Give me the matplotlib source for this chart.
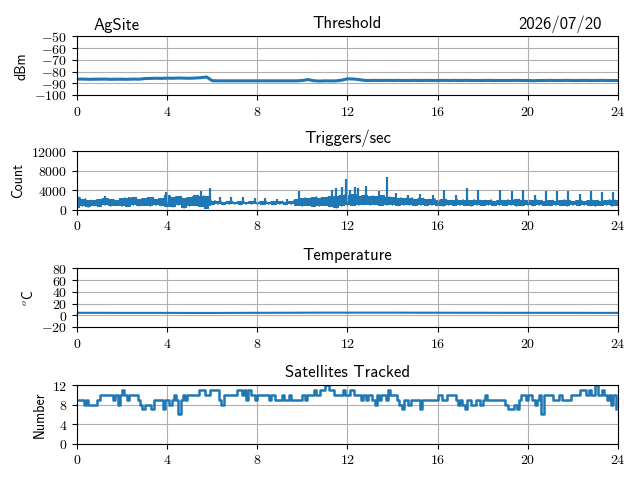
import matplotlib
matplotlib.use('Agg')
import matplotlib.pyplot as plt
from matplotlib.ticker import FuncFormatter
import numpy as np

plt.rcParams['font.family'] = ['cmss10', 'DejaVu Sans']
plt.rcParams['mathtext.fontset'] = 'cm'
plt.rcParams['axes.unicode_minus'] = True

# ----------------------------------------------------------------------
# Data (hours of the day)

site = 'AgSite'
date = '2026/07/20'

# threshold, every 0.25 h
thresh_dbm = [
    -86.5, -86.4, -86.6, -86.5,  -86.5, -86.4, -86.6, -86.5,
    -86.5, -86.6, -86.4, -86.5,  -86.0, -85.8, -85.7, -85.8,
    -85.6, -85.7, -85.5, -85.6,  -85.7, -85.5, -85.2, -84.6,
    -87.8, -87.9, -87.9, -87.9,  -87.9, -87.9, -87.9, -87.9,
    -87.9, -87.9, -87.9, -87.9,  -87.9, -87.9, -87.9, -87.9,
    -87.6, -86.8, -87.8, -88.1,  -87.9, -88.0, -87.9, -87.3,
    -86.2, -86.3, -86.8, -87.5,  -87.6, -87.5, -87.6, -87.5,
    -87.6, -87.5, -87.6, -87.6,  -87.5, -87.6, -87.5, -87.6,
    -87.6, -87.5, -87.6, -87.5,  -87.6, -87.5, -87.6, -87.6,
    -87.6, -87.5, -87.6, -87.6,  -87.6, -87.6, -87.5, -87.6,
    -87.6, -87.8, -87.6, -87.6,  -87.5, -87.6, -87.6, -87.5,
    -87.6, -87.6, -87.5, -87.6,  -87.6, -87.5, -87.6, -87.6,
    -87.6,
]

# trigger rate envelope, every 0.25 h
trig_lo = [
    300, 700, 500, 800,  600, 900, 700, 800,  700, 600, 900, 700,
    800, 700, 900, 800,  600, 500, 900, 300,  700, 800, 600, 200,
    1000, 1100, 1000, 1100,  1100, 1000, 1100, 1100,  1100, 1000, 1100, 1000,
    1100, 1000, 1100, 800,  700, 800, 600, 700,  800, 600, 300, 700,
    900, 800, 900, 1000,  900, 1000, 800, 900,  900, 800, 900, 900,
    800, 900, 800, 900,  800, 700, 900, 800,  900, 800, 700, 900,
    800, 900, 800, 900,  800, 900, 700, 800,  900, 800, 900, 800,
    800, 900, 800, 700,  900, 800, 900, 800,  700, 800, 900, 700,
    800,
]
trig_hi = [
    2500, 2200, 1900, 2000,  2200, 2300, 2100, 1900,  2400, 2300, 2500, 2200,
    2300, 2500, 2200, 2400,  2900, 2600, 2700, 2400,  2600, 2900, 2800, 2700,
    1800, 1700, 1600, 1700,  1600, 1700, 1600, 1800,  1600, 1700, 1600, 1700,
    1700, 1600, 1800, 2200,  2400, 2300, 2600, 2400,  2500, 2700, 2800, 3000,
    3000, 3100, 2800, 2900,  2800, 2700, 2900, 2600,  2500, 2400, 2300, 2400,
    2200, 2300, 2100, 2200,  2000, 2100, 1900, 2000,  2000, 1900, 2000, 1900,
    1900, 2000, 1800, 1900,  2000, 1900, 2100, 1900,  1900, 2000, 1900, 1800,
    1900, 1800, 2000, 1900,  1800, 1900, 1800, 1900,  1900, 1800, 2000, 1900,
    1900,
]
# isolated spikes: hour, count
spike_t = [1.23, 2.3, 3.93, 5.5, 5.9, 6.34, 6.83, 7.37, 7.88, 8.33, 8.88,
           9.33, 9.87, 10.87, 11.32, 11.5, 11.74, 11.92, 12.1, 12.32, 12.46,
           12.8, 13.4, 13.77, 14.13, 14.67, 15.2, 15.8, 16.3, 16.8, 17.3,
           17.8, 18.76, 19.3, 19.8, 20.3, 20.8, 21.3, 21.8, 22.3, 22.8,
           23.3, 23.77]
spike_n = [2700, 2500, 3600, 3800, 4500, 2500, 2500, 2600, 2300, 2400, 2200,
           2200, 3700, 2500, 4000, 4500, 4700, 6300, 4000, 4700, 4500,
           4900, 3700, 6600, 3300, 3000, 3100, 3000, 4100, 3000, 4400,
           4100, 4000, 3900, 4100, 3000, 3700, 3900, 3900, 3100, 3700,
           3500, 3600]

# temperature, hourly
temp_c = [4.2, 4.2, 4.1, 4.1, 4.1, 4.0, 4.0, 4.1, 4.2, 4.3, 4.4, 4.5, 4.5,
          4.5, 4.5, 4.4, 4.4, 4.3, 4.3, 4.2, 4.2, 4.2, 4.2, 4.1, 4.1]

# satellites tracked, every 0.1 h
sats = [
    9, 9, 9, 8, 9, 8, 8, 8, 8, 9,
    10, 10, 10, 10, 10, 10, 9, 10, 8, 10,
    11, 10, 9, 10, 10, 10, 10, 9, 8, 7,
    8, 8, 8, 7, 9, 9, 9, 9, 7, 9,
    9, 8, 9, 10, 9, 6, 9, 10, 9, 10,
    10, 10, 10, 10, 11, 11, 11, 10, 10, 11,
    11, 11, 11, 9, 8, 10, 10, 10, 10, 10,
    10, 11, 11, 10, 11, 9, 11, 10, 10, 9,
    10, 10, 10, 10, 10, 9, 10, 10, 9, 9,
    9, 10, 9, 9, 10, 9, 9, 9, 9, 9,
    10, 9, 10, 10, 10, 11, 10, 10, 11, 11,
    12, 12, 11, 11, 10, 10, 10, 10, 11, 10,
    10, 11, 11, 10, 10, 10, 9, 10, 9, 10,
    10, 9, 8, 10, 9, 10, 10, 9, 11, 10,
    10, 10, 9, 8, 7, 9, 9, 8, 9, 9,
    9, 9, 7, 9, 9, 9, 9, 9, 9, 9,
    10, 10, 9, 9, 10, 10, 10, 10, 9, 8,
    9, 8, 7, 9, 9, 8, 8, 9, 9, 8,
    9, 10, 9, 9, 9, 9, 9, 9, 9, 9,
    8, 7, 7, 7, 8, 7, 9, 10, 10, 9,
    10, 10, 9, 8, 9, 10, 6, 10, 10, 10,
    10, 9, 9, 9, 10, 9, 9, 9, 9, 10,
    10, 10, 10, 11, 11, 11, 10, 11, 10, 10,
    12, 10, 10, 11, 10, 9, 10, 8, 10, 7,
]

# ----------------------------------------------------------------------
# Build the time axes

t_thresh = np.linspace(0, 24, len(thresh_dbm))
t_env = np.linspace(0, 24, len(trig_lo))
t_temp = np.linspace(0, 24, len(temp_c))
t_sats = np.linspace(0, 24, len(sats) + 1)[:-1]

# trace zig-zagging between the read low and high values
tt = np.concatenate([t_env, t_env[:-1] + 0.125])
vv = np.concatenate([trig_lo, trig_hi[:-1]])
order = np.argsort(tt, kind='stable')
tt = tt[order]
vv = vv[order]
# base level under each spike
spike_base = np.interp(spike_t, t_env, trig_lo)

# ----------------------------------------------------------------------
# Plot

fig = plt.figure(figsize=(6.4, 4.8), dpi=100)
left, width, height = 0.1203, 0.8453, 0.1219
bottoms = [0.8021, 0.5635, 0.3188, 0.076]
axs = [fig.add_axes([left, b, width, height]) for b in bottoms]

mathfmt = FuncFormatter(lambda v, p: r'$%g$' % v)

ax = axs[0]
ax.plot(t_thresh, thresh_dbm, color='C0', lw=2.2)
ax.set_ylim(-100, -50)
ax.set_yticks(np.arange(-100, -49, 10))
ax.set_ylabel('dBm')
ax.set_title('Threshold')
ax.text(0.03, 1.06, site, transform=ax.transAxes, fontsize=12, ha='left', va='bottom')
ax.text(0.969, 1.06, date, transform=ax.transAxes, fontsize=12, ha='right', va='bottom')

ax = axs[1]
ax.fill_between(t_env, trig_lo, trig_hi, step='mid', color='C0', lw=0)
ax.plot(tt, vv, color='C0', lw=1.0)
ax.vlines(spike_t, spike_base, spike_n, color='C0', lw=1.6)
ax.set_ylim(0, 12000)
ax.set_yticks([0, 4000, 8000, 12000])
ax.set_ylabel('Count')
ax.set_title('Triggers/sec')

ax = axs[2]
ax.plot(t_temp, temp_c, color='C0', lw=1.5)
ax.set_ylim(-20, 80)
ax.set_yticks(np.arange(-20, 81, 20))
ax.set_ylabel(r'$^o$C')
ax.set_title('Temperature')

ax = axs[3]
ax.step(t_sats, sats, where='post', color='C0', lw=1.8)
ax.set_ylim(0, 12)
ax.set_yticks([0, 4, 8, 12])
ax.set_ylabel('Number')
ax.set_title('Satellites Tracked')

for ax in axs:
    ax.set_xlim(0, 24)
    ax.set_xticks(np.arange(0, 25, 4))
    ax.xaxis.set_major_formatter(mathfmt)
    ax.yaxis.set_major_formatter(mathfmt)
    ax.grid(True)

plt.savefig('out.png')
